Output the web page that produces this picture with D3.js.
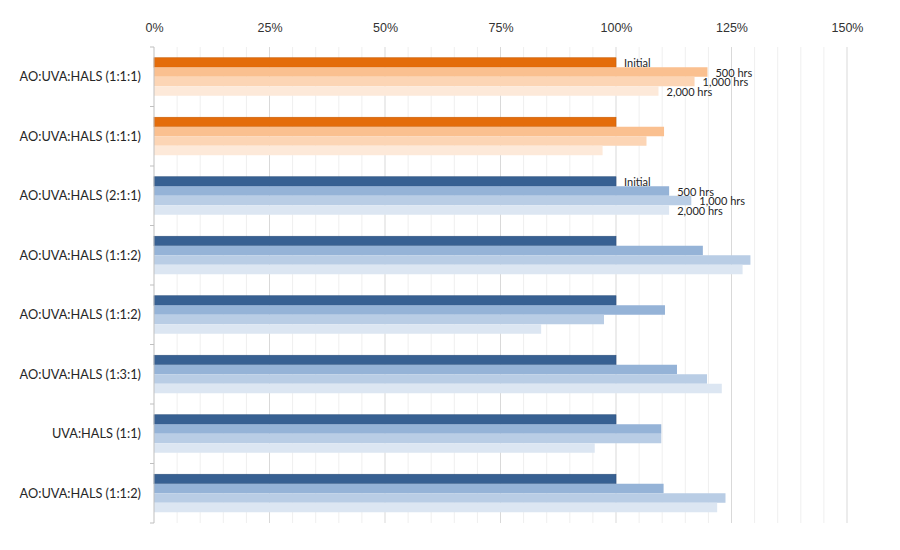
<!DOCTYPE html>
<html>
<head>
<meta charset="utf-8">
<script src="https://cdn.jsdelivr.net/npm/d3@7"></script>
<style>
  body { margin: 0; background: #fff; }
  svg { font-family: Lato, "Open Sans", sans-serif; }
  .cat-label { font-size: 12.75px; fill: #262626; }
  .x-axis text { font-size: 12.5px; fill: #333; }
  .bar-note { font-size: 11px; fill: #262626; }
</style>
</head>
<body>
<div id="chart-area"><svg></svg></div>
<script>
const CHART_SIZE = { width: 900, height: 550 };
const MARGIN = { left: 154, right: 53, top: 47, bottom: 27 };
const WIDTH = CHART_SIZE.width - (MARGIN.left + MARGIN.right);
const HEIGHT = CHART_SIZE.height - (MARGIN.top + MARGIN.bottom);

// data, top to bottom
const categories = [
  "AO:UVA:HALS (1:1:1)",
  "AO:UVA:HALS (1:1:1)",
  "AO:UVA:HALS (2:1:1)",
  "AO:UVA:HALS (1:1:2)",
  "AO:UVA:HALS (1:1:2)",
  "AO:UVA:HALS (1:3:1)",
  "UVA:HALS (1:1)",
  "AO:UVA:HALS (1:1:2)"
];
const seriesNames = ["Initial", "500 hrs", "1,000 hrs", "2,000 hrs"];
const initialValues = [100, 100, 100, 100, 100, 100, 100, 100];
const hrs500Values = [119.8, 110.4, 111.5, 118.8, 110.6, 113.2, 109.8, 110.3];
const hrs1000Values = [117.0, 106.6, 116.3, 129.1, 97.4, 119.7, 109.8, 123.7];
const hrs2000Values = [109.2, 97.1, 111.5, 127.4, 83.8, 122.9, 95.4, 121.9];
const groupPalette = ["orange", "orange", "blue", "blue", "blue", "blue", "blue", "blue"];
const labelledGroups = [0, 2];
const xTicks = [0, 25, 50, 75, 100, 125, 150];

const COLORS = {
  orange: ["#E46C0A", "#FAC090", "#FCD5B5", "#FDE9D9"],
  blue: ["#376092", "#95B3D7", "#B9CDE5", "#DCE6F2"]
};

const main = () => {
  const seriesValues = [initialValues, hrs500Values, hrs1000Values, hrs2000Values];

  const svg = d3
    .select("#chart-area svg")
    .attr("width", CHART_SIZE.width)
    .attr("height", CHART_SIZE.height);

  const g = svg
    .append("g")
    .attr("transform", `translate(${MARGIN.left},${MARGIN.top})`);

  const x = d3.scaleLinear().domain([0, 150]).range([0, WIDTH]);

  const y = d3
    .scaleBand()
    .domain(d3.range(categories.length))
    .range([0, HEIGHT]);

  const barBlock = 38;
  const yInner = d3
    .scaleBand()
    .domain(seriesNames)
    .range([(y.bandwidth() - barBlock) / 2, (y.bandwidth() + barBlock) / 2]);

  // minor + major gridlines
  const minor = d3.range(5, 151, 5).filter(v => v % 25 !== 0);
  g.append("g")
    .selectAll("line")
    .data(minor)
    .join("line")
    .attr("x1", d => x(d))
    .attr("x2", d => x(d))
    .attr("y1", 0)
    .attr("y2", HEIGHT)
    .attr("stroke", "#efefef")
    .attr("stroke-width", 1);

  g.append("g")
    .selectAll("line")
    .data(xTicks.filter(v => v > 0))
    .join("line")
    .attr("x1", d => x(d))
    .attr("x2", d => x(d))
    .attr("y1", 0)
    .attr("y2", HEIGHT)
    .attr("stroke", "#d9d9d9")
    .attr("stroke-width", 1);

  // top axis labels
  const xAxis = d3
    .axisTop(x)
    .tickValues(xTicks)
    .tickFormat(d => d + "%")
    .tickSize(0)
    .tickPadding(15);

  g.append("g")
    .attr("class", "x-axis")
    .call(xAxis)
    .call(a => a.select(".domain").remove());

  // bars
  const groups = g
    .selectAll(".group")
    .data(categories)
    .join("g")
    .attr("class", "group")
    .attr("transform", (d, i) => `translate(0,${y(i)})`);

  groups.each(function(cat, i) {
    const grp = d3.select(this);
    const pal = COLORS[groupPalette[i]];
    seriesNames.forEach((s, j) => {
      const v = seriesValues[j][i];
      grp
        .append("rect")
        .attr("x", x(0))
        .attr("y", yInner(s))
        .attr("width", x(v) - x(0))
        .attr("height", yInner.bandwidth())
        .attr("fill", pal[j])
        .attr("stroke", j === 0 ? d3.color(pal[j]).darker(0.4) : "none")
        .attr("stroke-width", 0.6);
    });

    if (labelledGroups.includes(i)) {
      seriesNames.forEach((s, j) => {
        const v = seriesValues[j][i];
        grp
          .append("text")
          .attr("class", "bar-note")
          .attr("x", x(v) + 8)
          .attr("y", yInner(s) + yInner.bandwidth() / 2 + 1)
          .attr("dy", "0.35em")
          .text(s);
      });
    }
  });

  // left axis with category boundary ticks
  g.append("line")
    .attr("x1", 0)
    .attr("x2", 0)
    .attr("y1", 0)
    .attr("y2", HEIGHT)
    .attr("stroke", "#bfbfbf");

  g.append("g")
    .selectAll("line")
    .data(d3.range(categories.length + 1))
    .join("line")
    .attr("x1", -4)
    .attr("x2", 0)
    .attr("y1", d => d * y.step())
    .attr("y2", d => d * y.step())
    .attr("stroke", "#bfbfbf");

  g.append("g")
    .selectAll("text")
    .data(categories)
    .join("text")
    .attr("class", "cat-label")
    .attr("x", -13)
    .attr("y", (d, i) => y(i) + y.bandwidth() / 2)
    .attr("dy", "0.35em")
    .attr("text-anchor", "end")
    .text(d => d);
};

window.onload = main;
</script>
</body>
</html>
